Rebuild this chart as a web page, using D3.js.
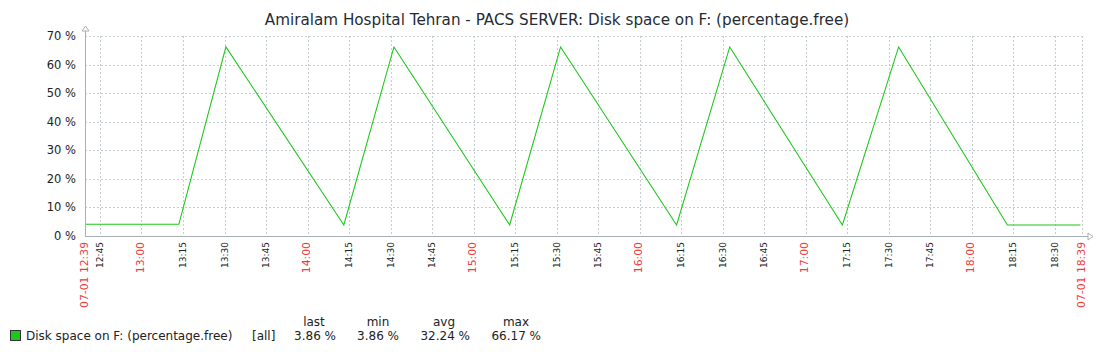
<!DOCTYPE html>
<html>
<head>
<meta charset="utf-8">
<script src="https://cdn.jsdelivr.net/npm/d3@7"></script>
<style>
  body { margin: 0; background: #fff; }
  text { font-family: "DejaVu Sans", sans-serif; }
</style>
</head>
<body>
<div id="chart"></div>
<script>
// Datos (hora, % libre)
const times = ["12:39:36", "13:13:30", "13:30:30", "14:13:06", "14:31:12", "15:13:00", "15:31:24",
  "16:13:18", "16:32:30", "17:13:12", "17:33:30", "18:12:48", "18:39:12"];
const values = [4.1, 4.1, 66.17, 3.86, 66.17, 3.86, 66.17, 3.86, 66.17, 3.86, 66.17, 3.86, 3.86];
const yTicks = [0, 10, 20, 30, 40, 50, 60, 70];
const legendName = "Disk space on F: (percentage.free)";
const legendHeaders = ["last", "min", "avg", "max"];
const legendValues = ["3.86 %", "3.86 %", "32.24 %", "66.17 %"];
const titleText = "Amiralam Hospital Tehran - PACS SERVER: Disk space on F: (percentage.free)";

const parse = d3.timeParse("%Y-%m-%d %H:%M:%S");
const data = times.map((t, i) => ({ t: parse("2024-07-01 " + t), v: values[i] }));
const start = parse("2024-07-01 12:39:36");
const end = parse("2024-07-01 18:39:45");

const W = 1113, H = 354;
const SVG = d3.select("#chart").append("svg").attr("width", W).attr("height", H);

const x = d3.scaleTime().domain([start, end]).range([85, 1082]);
const y = d3.scaleLinear().domain([0, 70]).range([236, 36]);

// Título
SVG.append("text")
  .attr("x", 557).attr("y", 25)
  .attr("text-anchor", "middle")
  .attr("font-size", 15.2)
  .attr("fill", "#1f2c33")
  .text(titleText);

// Grilla
const gridColor = "#c5cdd1";
const quarter = d3.timeMinute.every(15).range(start, end);
SVG.append("g").selectAll("line")
  .data(quarter)
  .join("line")
  .attr("x1", d => Math.round(x(d)) + 0.5).attr("x2", d => Math.round(x(d)) + 0.5)
  .attr("y1", y(70)).attr("y2", y(0))
  .attr("stroke", gridColor).attr("stroke-dasharray", "2,2");

SVG.append("line")
  .attr("x1", 1082.5).attr("x2", 1082.5).attr("y1", y(70)).attr("y2", y(0))
  .attr("stroke", gridColor).attr("stroke-dasharray", "2,2");

SVG.append("g").selectAll("line")
  .data(yTicks.filter(d => d > 0))
  .join("line")
  .attr("x1", 85).attr("x2", 1082)
  .attr("y1", d => Math.round(y(d)) + 0.5).attr("y2", d => Math.round(y(d)) + 0.5)
  .attr("stroke", gridColor).attr("stroke-dasharray", "2,2");

// Serie
const line = d3.line().x(d => x(d.t)).y(d => y(d.v));
SVG.append("path")
  .datum(data)
  .attr("d", line)
  .attr("fill", "none")
  .attr("stroke", "#1dc81d")
  .attr("stroke-width", 1.1);

// Ejes
const axisColor = "#a8b0b6";
SVG.append("line").attr("x1", 85.5).attr("x2", 85.5).attr("y1", 31).attr("y2", 237)
  .attr("stroke", axisColor);
SVG.append("line").attr("x1", 85).attr("x2", 1088).attr("y1", 236.5).attr("y2", 236.5)
  .attr("stroke", axisColor);
SVG.append("path").attr("d", "M82,31 L89,31 L85.5,26 Z")
  .attr("fill", "#fff").attr("stroke", axisColor);
SVG.append("path").attr("d", "M1088,233 L1088,240 L1093,236.5 Z")
  .attr("fill", "#fff").attr("stroke", axisColor);

// Etiquetas eje Y
SVG.append("g").selectAll("text")
  .data(yTicks)
  .join("text")
  .attr("x", 76)
  .attr("y", d => y(d) + 4)
  .attr("text-anchor", "end")
  .attr("font-size", 11.5)
  .attr("fill", "#222")
  .text(d => d + " %");

// Etiquetas eje X
const fmt = d3.timeFormat("%H:%M");
const xLabels = quarter.filter(d => d > start).map(d => ({
  t: d, text: fmt(d), hour: d.getMinutes() === 0
}));
xLabels.unshift({ t: start, text: "07-01 12:39", hour: true });
xLabels.push({ t: end, text: "07-01 18:39", hour: true });

SVG.append("g").selectAll("text")
  .data(xLabels)
  .join("text")
  .attr("transform", d => `translate(${x(d.t) + (d.hour ? 2.5 : 3)}, 242) rotate(-90)`)
  .attr("text-anchor", "end")
  .attr("font-size", d => d.hour ? 10.8 : 9)
  .attr("fill", d => d.hour ? "#f03c3c" : "#222")
  .text(d => d.text);

// Leyenda
const legend = SVG.append("g");
legend.append("rect")
  .attr("x", 10.5).attr("y", 330.5).attr("width", 10).attr("height", 10)
  .attr("fill", "#1dc81d").attr("stroke", "#333");
legend.append("text")
  .attr("x", 26).attr("y", 340)
  .attr("font-size", 12).attr("fill", "#222")
  .text(legendName);
legend.append("text")
  .attr("x", 252).attr("y", 340)
  .attr("font-size", 12).attr("fill", "#222")
  .text("[all]");

const colRight = [336, 399, 470, 541];
const hdrOffset = [22, 21, 26, 25];
legend.selectAll(".hdr")
  .data(legendHeaders)
  .join("text")
  .attr("class", "hdr")
  .attr("x", (d, i) => colRight[i] - hdrOffset[i])
  .attr("y", 326)
  .attr("text-anchor", "middle")
  .attr("font-size", 12).attr("fill", "#222")
  .text(d => d);
legend.selectAll(".val")
  .data(legendValues)
  .join("text")
  .attr("class", "val")
  .attr("x", (d, i) => colRight[i])
  .attr("y", 340)
  .attr("text-anchor", "end")
  .attr("font-size", 12).attr("fill", "#222")
  .text(d => d);
</script>
</body>
</html>
